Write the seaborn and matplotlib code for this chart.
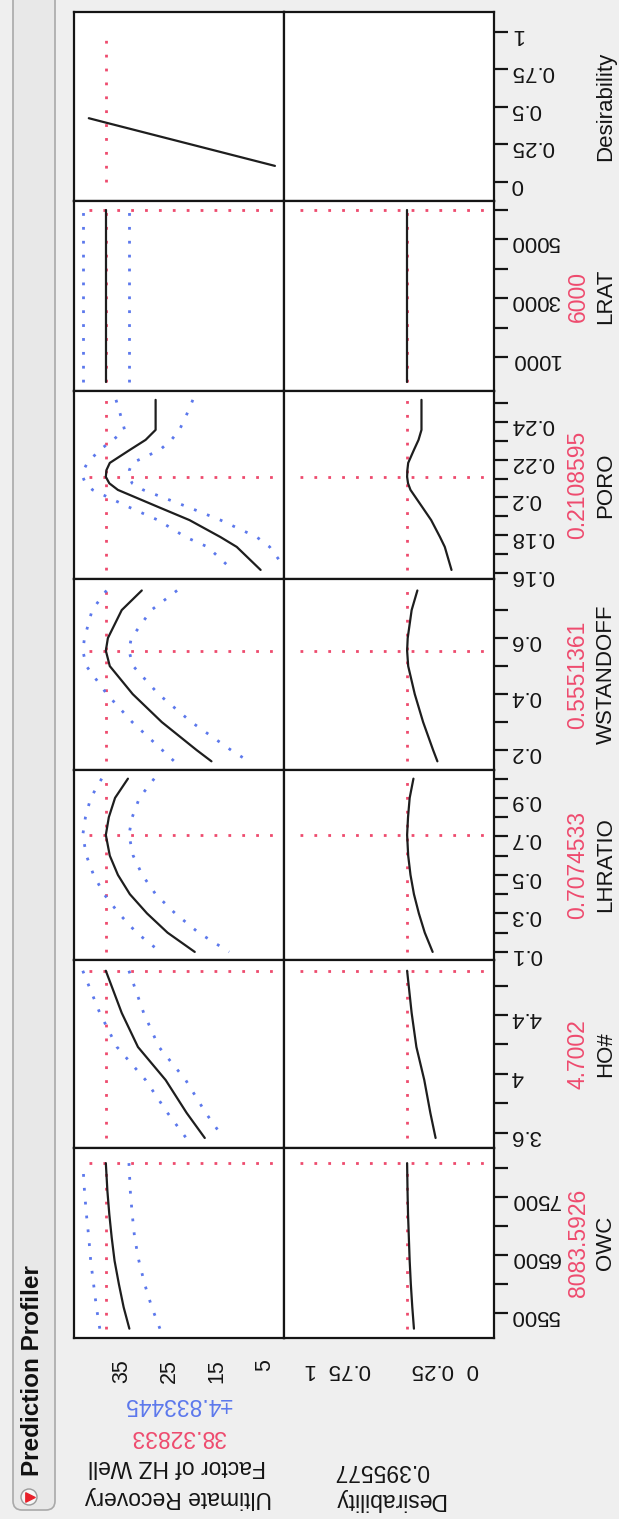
import matplotlib
matplotlib.use("Agg")
import matplotlib.pyplot as plt
from matplotlib.patches import FancyBboxPatch, Circle
import seaborn as sns

sns.set_style("white")
plt.rcParams["font.family"] = ["Liberation Sans", "DejaVu Sans"]

W, H = 619, 1519
RED = "#EE4B6E"
BLUE = "#5C78EC"
INK = "#1E1E1E"
BG = "#EFEFEF"
DOT = (0, (1, 4))

ur_current = 38.32833
ur_pm = "\u00b14.833445"
des_current = 0.395577

# desirability function of Ultimate Recovery (top-left cell)
desfn_ur = [41.9, 38.33, 2.9]
desfn_d = [0.425, 0.3956, 0.107]
desfn_ref = [0.0, 0.95]

factor_names = ["LRAT", "PORO", "WSTANDOFF", "LHRATIO", "HO#", "OWC"]
factor_current = [6000, 0.2108595, 0.5551361, 0.7074533, 4.7002, 8083.5926]
factor_current_txt = ["6000", "0.2108595", "0.5551361", "0.7074533", "4.7002", "8083.5926"]

lrat = [150, 6000]
lrat_pred = [38.33, 38.33]
lrat_hi = [43.16, 43.16]
lrat_lo = [33.49, 33.49]
lrat_des = [0.3956, 0.3956]

poro = [0.2517, 0.245, 0.2358, 0.2305, 0.2252, 0.2183, 0.2145, 0.2109, 0.2075, 0.204,
        0.195, 0.188, 0.179, 0.1738, 0.1616]
poro_pred = [27.9, 27.9, 27.9, 30.0, 33.3, 37.5, 38.2, 38.33, 37.6, 35.8,
             27.4, 20.8, 14.3, 10.9, 5.9]
poro_hi = [36.2, 35.4, 34.4, 36.8, 39.6, 42.2, 43.0, 43.16, 42.6, 41.1,
           33.6, 27.4, 21.6, 17.0, 11.8]
poro_lo = [20.1, 21.2, 22.9, 24.6, 27.0, 32.8, 33.4, 33.49, 32.8, 30.5,
           21.2, 14.3, 6.7, 4.0, 0.5]
poro_des = [0.308, 0.308, 0.308, 0.326, 0.354, 0.389, 0.394, 0.3956, 0.390, 0.375,
            0.304, 0.249, 0.195, 0.166, 0.125]

wstand = [0.77, 0.7, 0.6, 0.5551, 0.5, 0.4, 0.3, 0.2, 0.16]
ws_pred = [30.8, 35.0, 37.9, 38.33, 37.5, 32.7, 26.6, 19.3, 16.2]
ws_hi = [38.2, 41.2, 42.8, 43.16, 42.4, 38.1, 32.8, 26.5, 24.0]
ws_lo = [23.4, 28.8, 33.0, 33.49, 32.6, 27.3, 20.4, 12.1, 8.4]
ws_des = [0.333, 0.368, 0.392, 0.3956, 0.389, 0.349, 0.298, 0.237, 0.211]

lhratio = [1.0, 0.9, 0.8, 0.7075, 0.6, 0.5, 0.4, 0.3, 0.2, 0.1]
lh_pred = [33.7, 36.4, 37.7, 38.33, 37.5, 35.8, 33.3, 29.7, 25.4, 19.7]
lh_hi = [39.2, 41.5, 42.6, 43.16, 42.4, 40.9, 38.7, 35.6, 31.9, 26.9]
lh_lo = [28.2, 31.3, 32.8, 33.49, 32.6, 30.7, 27.9, 23.8, 18.9, 12.5]
lh_des = [0.357, 0.380, 0.390, 0.3956, 0.389, 0.375, 0.354, 0.324, 0.288, 0.240]

ho = [4.70, 4.414, 4.183, 3.959, 3.736, 3.566]
ho_pred = [38.33, 35.0, 31.6, 25.8, 21.4, 17.6]
ho_hi = [43.16, 39.6, 36.0, 30.0, 25.4, 21.5]
ho_lo = [33.49, 30.4, 27.2, 21.6, 17.4, 13.7]
ho_des = [0.3956, 0.368, 0.339, 0.291, 0.254, 0.222]

owc = [5230, 5600, 6000, 6400, 6800, 7200, 7600, 8084]
owc_pred = [33.4, 34.6, 35.6, 36.5, 37.1, 37.6, 38.0, 38.33]
owc_hi = [39.6, 40.3, 40.9, 41.5, 41.9, 42.4, 42.8, 43.16]
owc_lo = [27.0, 28.7, 30.2, 31.4, 32.3, 32.8, 33.2, 33.49]
owc_des = [0.354, 0.364, 0.373, 0.380, 0.385, 0.390, 0.393, 0.3956]

profiles = [
    (lrat, lrat_pred, lrat_hi, lrat_lo, lrat_des),
    (poro, poro_pred, poro_hi, poro_lo, poro_des),
    (wstand, ws_pred, ws_hi, ws_lo, ws_des),
    (lhratio, lh_pred, lh_hi, lh_lo, lh_des),
    (ho, ho_pred, ho_hi, ho_lo, ho_des),
    (owc, owc_pred, owc_hi, owc_lo, owc_des),
]

# axis ticks per row (desirability row first)
row_ticks = [
    [0, 0.25, 0.5, 0.75, 1],
    [1000, 2000, 3000, 4000, 5000, 6000],
    [0.16, 0.17, 0.18, 0.19, 0.20, 0.21, 0.22, 0.23, 0.24, 0.25],
    [0.2, 0.3, 0.4, 0.5, 0.6, 0.7],
    [0.1, 0.2, 0.3, 0.4, 0.5, 0.6, 0.7, 0.8, 0.9, 1.0],
    [3.6, 3.8, 4.0, 4.2, 4.4, 4.6],
    [5500, 6000, 6500, 7000, 7500, 8000],
]
row_ticklabels = [
    ["0", "0.25", "0.5", "0.75", "1"],
    ["1000", "", "3000", "", "5000", ""],
    ["0.16", "", "0.18", "", "0.2", "", "0.22", "", "0.24", ""],
    ["0.2", "", "0.4", "", "0.6", ""],
    ["0.1", "", "0.3", "", "0.5", "", "0.7", "", "0.9", ""],
    ["3.6", "", "4", "", "4.4", ""],
    ["5500", "", "6500", "", "7500", ""],
]
row_ylims = [(-0.127, 1.133), (-156, 6306), (0.1568, 0.2564), (0.129, 0.811),
             (0.058, 1.045), (3.498, 4.773), (5069, 8345)]

ur_ticks = [40, 35, 30, 25, 20, 15, 10, 5]
ur_ticklabels = ["", "35", "", "25", "", "15", "", "5"]
des_ticks = [1, 0.75, 0.5, 0.25, 0]
des_ticklabels = ["1", "0.75", "", "0.25", "0"]
ur_lim = (45.0, 1.0)
des_lim = (1.146, -0.134)
ur_span = [41.9, 2.9]
des_span = [1.049, -0.085]

# ---------------- layout (pixels) ----------------
row_edges = [12, 201, 391, 579, 770, 960, 1148, 1338]
col_edges = [74, 284, 494]

fig = plt.figure(figsize=(W / 100, H / 100), dpi=100, facecolor=BG)

bg = fig.add_axes([0, 0, 1, 1], zorder=-1)
bg.set_xlim(0, W)
bg.set_ylim(H, 0)
bg.axis("off")
bg.add_patch(FancyBboxPatch((13, -20), 42, 1530, boxstyle="round,pad=0,rounding_size=9",
                            fc="#E8E8E8", ec="#A9A9A9", lw=1.2))
bg.add_patch(Circle((29, 1497), 8, fc="#F6F6F6", ec="#9A9A9A", lw=1))
bg.scatter([30], [1497], marker=">", s=45, color="#E8202A", zorder=3)
bg.text(33, 1371, "Prediction Profiler", rotation=90, ha="center", va="center",
        fontsize=17.5, fontweight="bold", color="#111111")


def make_ax(r, c):
    y0, y1 = row_edges[r], row_edges[r + 1]
    x0, x1 = col_edges[c], col_edges[c + 1]
    ax = fig.add_axes([x0 / W, 1 - y1 / H, (x1 - x0) / W, (y1 - y0) / H])
    ax.set_facecolor("white")
    for s in ax.spines.values():
        s.set_visible(True)
        s.set_color("#151515")
        s.set_linewidth(1.6)
    return ax


def line(ax, x, y, color, dotted=False, lw=1.6, orient="y"):
    sns.lineplot(x=x, y=y, ax=ax, color=color, lw=2.0 if dotted else lw,
                 linestyle=DOT if dotted else "-", orient=orient, sort=False,
                 estimator=None, errorbar=None)


axes = []
for r in range(7):
    ax_l, ax_r = make_ax(r, 0), make_ax(r, 1)

    if r == 0:
        line(ax_l, [ur_current, ur_current], desfn_ref, RED, dotted=True)
        line(ax_l, desfn_ur, desfn_d, INK, orient="x")
    else:
        fv, pred, hi, lo, des = profiles[r - 1]
        cur = factor_current[r - 1]
        fv_span = [min(fv), max(fv)]
        # current-setting crosshairs
        line(ax_l, [ur_current, ur_current], fv_span, RED, dotted=True)
        line(ax_l, ur_span, [cur, cur], RED, dotted=True, orient="x")
        line(ax_r, [des_current, des_current], fv_span, RED, dotted=True)
        line(ax_r, des_span, [cur, cur], RED, dotted=True, orient="x")
        # prediction with confidence band
        line(ax_l, hi, fv, BLUE, dotted=True)
        line(ax_l, lo, fv, BLUE, dotted=True)
        line(ax_l, pred, fv, INK)
        line(ax_r, des, fv, INK)

    ax_l.set_xlim(*ur_lim)
    ax_r.set_xlim(*des_lim)
    for ax in (ax_l, ax_r):
        ax.set_ylim(*row_ylims[r])
        ax.set_xlabel("")
        ax.set_ylabel("")
        ax.set_xticks([])
    ax_l.set_yticks([])

    ax_r.yaxis.tick_right()
    ax_r.set_yticks(row_ticks[r])
    ax_r.set_yticklabels(row_ticklabels[r], rotation=180)
    ax_r.tick_params(axis="y", direction="out", length=10, width=1.6, pad=2,
                     labelsize=16, colors="#151515")

    # factor name + current value at the right
    yc = (row_edges[r] + row_edges[r + 1]) / 2
    if r == 0:
        bg.text(606, yc, "Desirability", rotation=90, ha="center", va="center",
                fontsize=16, color="#151515")
    else:
        bg.text(578, yc, factor_current_txt[r - 1], rotation=90, ha="center",
                va="center", fontsize=16.5, color=RED)
        bg.text(606, yc, factor_names[r - 1], rotation=90, ha="center",
                va="center", fontsize=16, color="#151515")
    axes.append((ax_l, ax_r))

# bottom axes
ax_l, ax_r = axes[-1]
ax_l.set_xticks(ur_ticks)
ax_l.set_xticklabels(ur_ticklabels, rotation=90)
ax_l.tick_params(axis="x", direction="out", length=10, width=1.6, pad=5,
                 labelsize=15.5, colors="#151515")
ax_r.set_xticks(des_ticks)
ax_r.set_xticklabels(des_ticklabels, rotation=180)
ax_r.tick_params(axis="x", direction="out", length=10, width=1.6, pad=5,
                 labelsize=16, colors="#151515")

# response labels under the grid (upside down as in the picture)
bg.text(178, 1404, ur_pm, rotation=180, ha="center", va="center", fontsize=16.5, color=BLUE)
bg.text(178, 1437, f"{ur_current:.5f}", rotation=180, ha="center", va="center",
        fontsize=16.5, color=RED)
bg.text(177, 1467, "Factor of HZ Well", rotation=180, ha="center", va="center",
        fontsize=16.5, color="#151515")
bg.text(178, 1497, "Ultimate Recovery", rotation=180, ha="center", va="center",
        fontsize=16.5, color="#151515")
bg.text(381, 1470, f"{des_current:.6f}", rotation=180, ha="center", va="center",
        fontsize=16.5, color="#151515")
bg.text(389, 1500, "Desirability", rotation=180, ha="center", va="center",
        fontsize=16.5, color="#151515")

fig.savefig("out.png", dpi=100, facecolor=BG)
